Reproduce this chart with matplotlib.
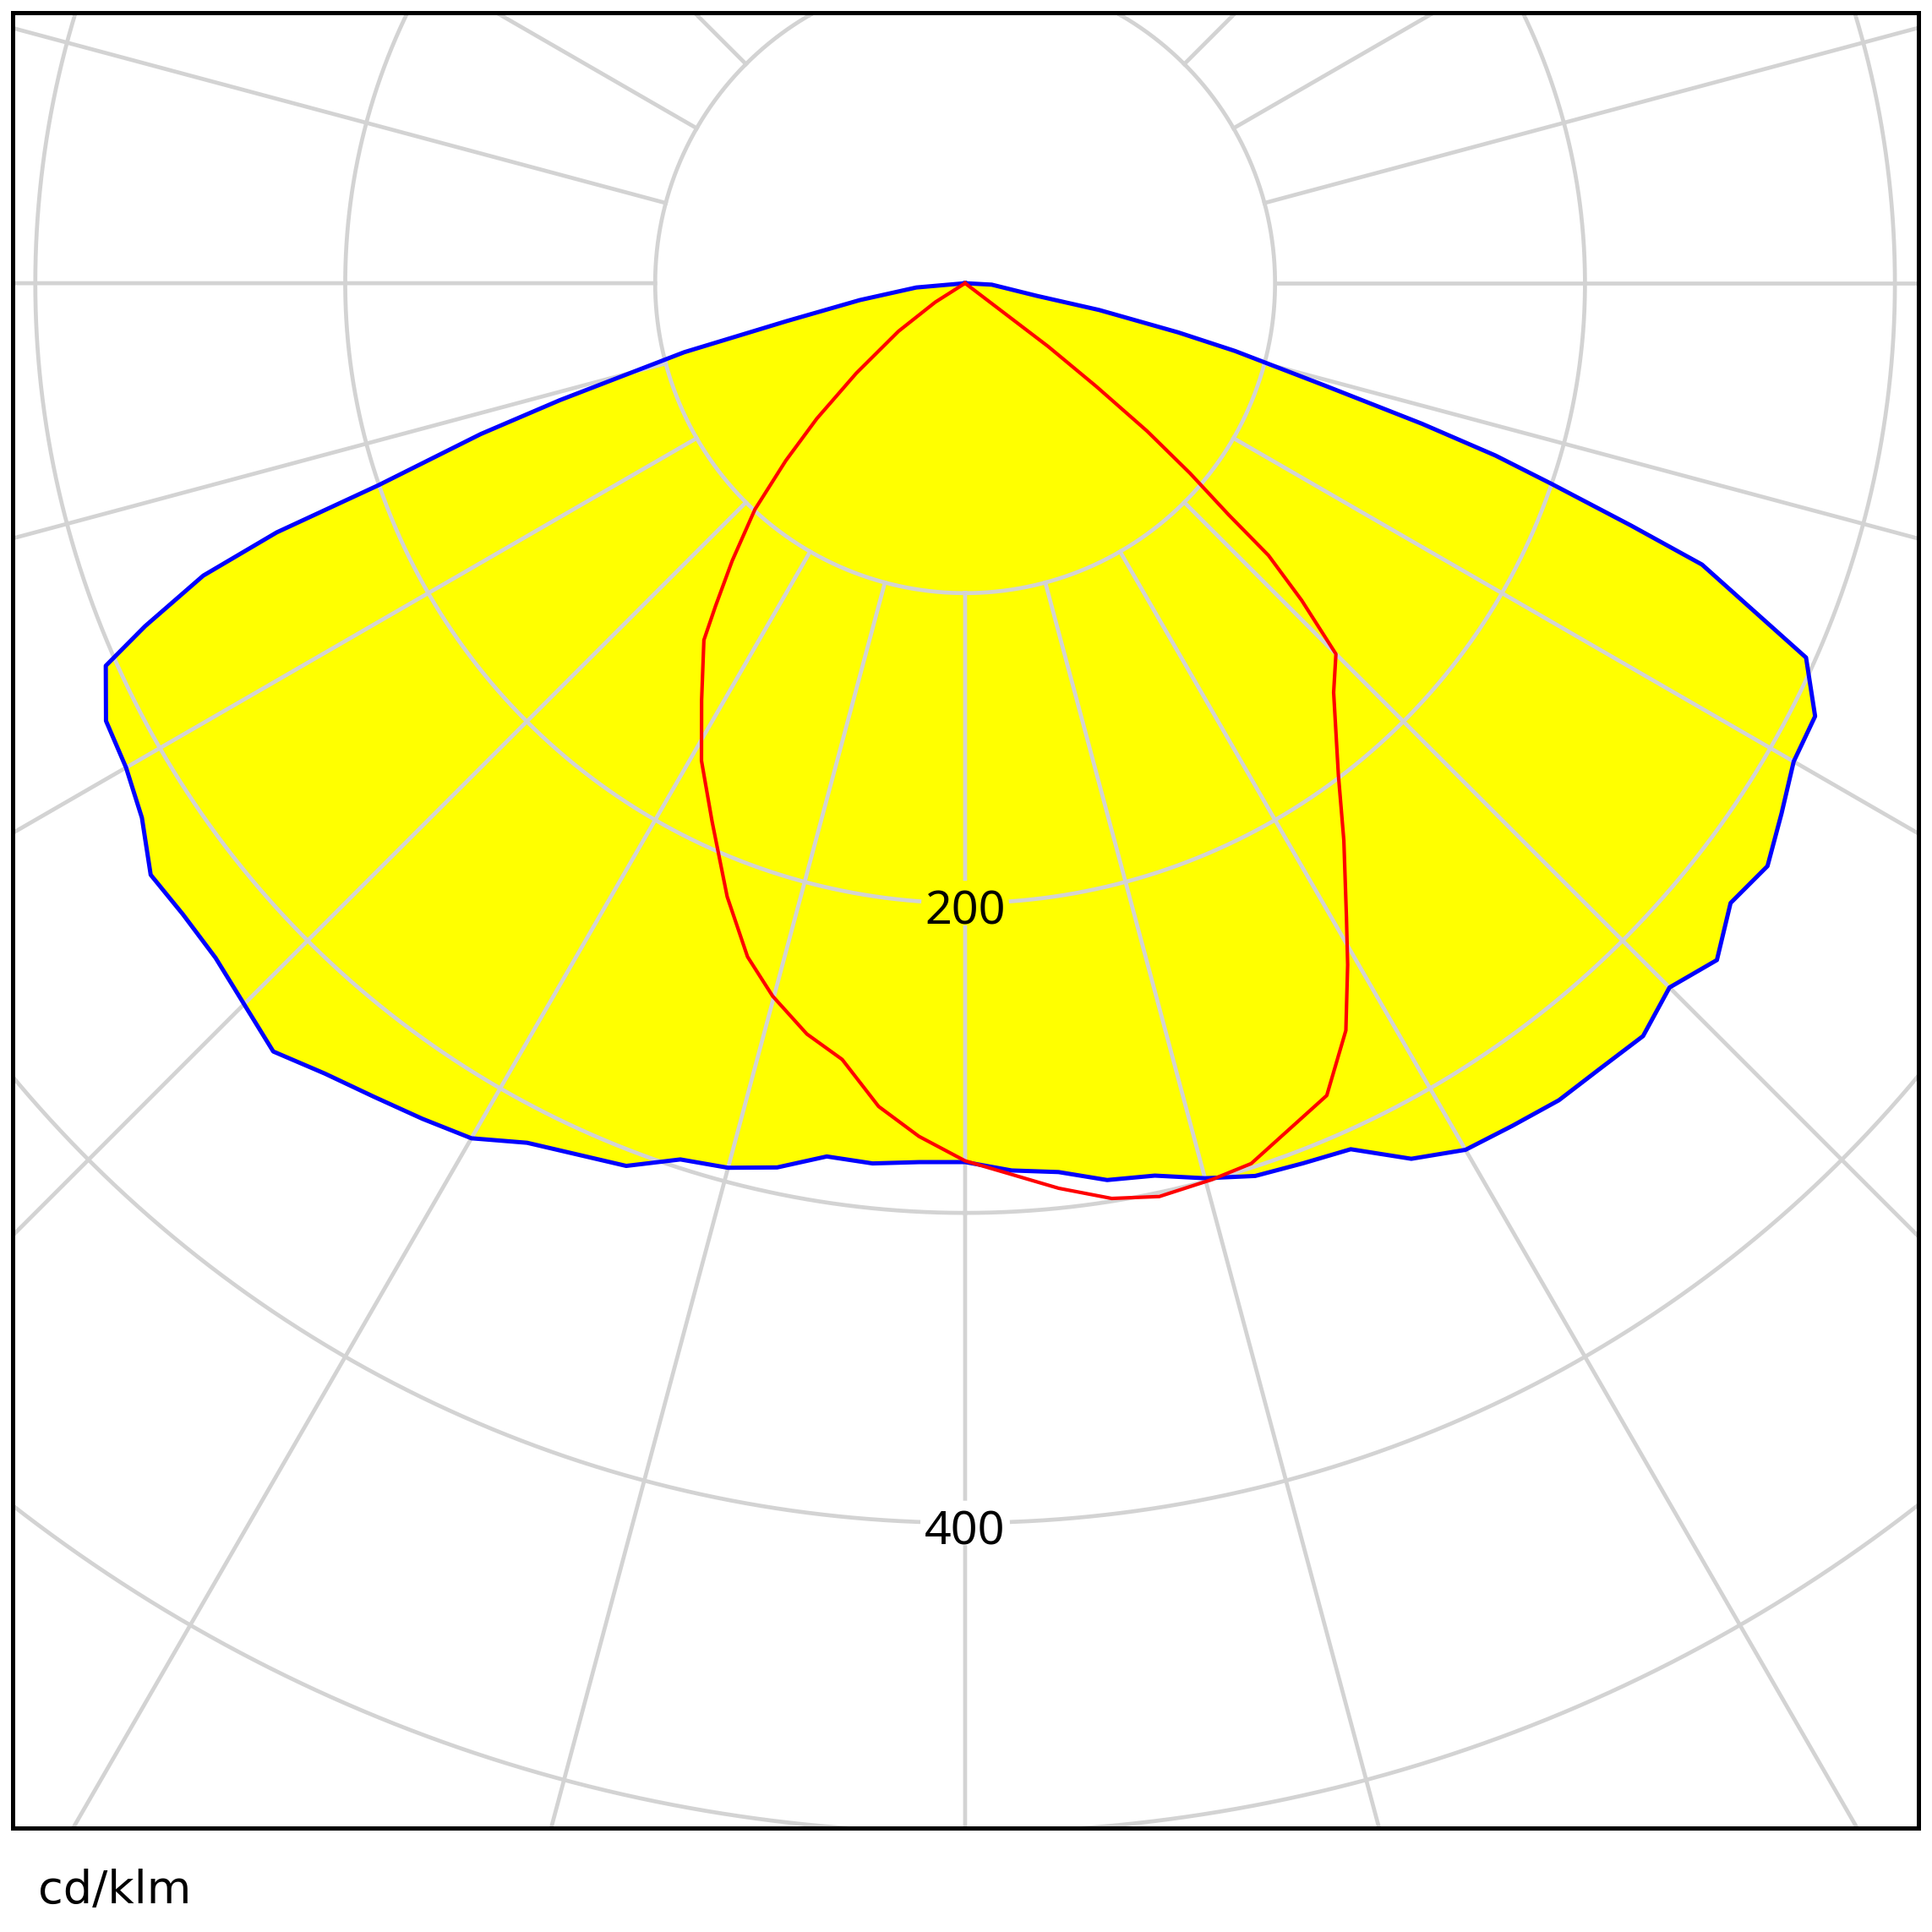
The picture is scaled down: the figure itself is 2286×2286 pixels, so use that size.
import numpy as np
import matplotlib.pyplot as plt

plt.rcParams['font.family'] = ['Noto Sans', 'DejaVu Sans']

# C0-C180 plane (blue, filled) : gamma in degrees from nadir, intensity in cd/klm
blue_gamma = [-90, -85.0, -80.9, -78.0, -76.2, -73.9, -72.7, -71.0, -70.1, -69.0,
              -67.3, -66.0, -63.0, -60.0, -57.0, -54.0, -51.1, -48.0, -45.0, -42.0,
              -39.0, -36.0, -33.0, -30.0, -27.0, -21.0, -18.0, -15.0, -12.0, -9.0,
              -6.0, -3.0, 0, 3, 6, 9, 12, 15, 18, 21,
              24, 27, 30, 33, 36, 39, 42, 45, 48, 51,
              54, 57, 60, 63, 66, 69.1, 70.0, 71.1, 72.0, 72.9,
              74.1, 75.9, 77.0, 78.7, 80.0, 86.9, 90]
blue_cd = [0, 15.8, 34.4, 59.0, 93.3, 136.1, 163.7, 200.1, 236.2, 263.3,
           286.8, 303.5, 311.1, 312.6, 316.7, 324.8, 324.3, 325.4, 329.0, 333.6,
           328.2, 324.5, 321.5, 318.6, 311.3, 305.1, 297.3, 295.5, 291.7, 285.3,
           285.6, 284.0, 283.6, 286.7, 288.4, 293.0, 294.4, 299.0, 302.9, 304.2,
           305.9, 317.1, 322.9, 324.2, 325.9, 325.9, 326.9, 321.4, 326.4, 317.8,
           320.0, 314.1, 308.7, 307.8, 297.0, 254.5, 228.7, 200.2, 179.9, 154.2,
           121.0, 89.8, 70.6, 44.1, 23.5, 8.6, 0]

# C90-C270 plane (red)
red_gamma = [-60, -57.6, -54.2, -50.4, -47.6, -45.3, -42.9, -40.0, -37.7, -36.2,
             -32.3, -28.9, -25.2, -21.2, -17.9, -15.1, -11.9, -9.0, -6.0, -3.1,
             0, 3.0, 5.9, 9.1, 12.0, 15.4, 18.0, 24.0, 27.0, 29.3,
             31.0, 34.2, 37.2, 42.0, 45.0, 46.7, 48.1, 48.7, 49.8, 50.9,
             51.8, 52.7, 55]
red_cd = [0, 11.4, 26.5, 45.6, 64.8, 81.4, 99.6, 116.9, 131.7, 142.7,
          159.1, 176.0, 191.8, 212.3, 228.4, 238.3, 247.6, 253.6, 267.1, 275.7,
          283.2, 288.0, 293.6, 299.1, 301.3, 300.0, 298.7, 286.9, 270.6, 252.2,
          238.9, 217.4, 199.2, 177.7, 169.2, 149.2, 131.5, 113.0, 95.0, 75.6,
          53.8, 33.7, 0]

rings = [100, 200, 300, 400, 500]
ring_labels = [200, 400]
spoke_step = 15
unit = 'cd/klm'

grid_col = '#d3d3d3'


def to_xy(gamma, cd):
    g = np.radians(gamma)
    cd = np.asarray(cd, dtype=float)
    return cd * np.sin(g), -cd * np.cos(g)


W = 2286
fig = plt.figure(figsize=(W / 100, W / 100), dpi=100)
ax = fig.add_axes([15 / W, 123 / W, 2255 / W, 2148 / W])
ax.set_xlim(-307.3, 307.6)
ax.set_ylim(-498.5, 87.3)
ax.set_xticks([])
ax.set_yticks([])
for sp in ax.spines.values():
    sp.set_linewidth(3.6)
    sp.set_color('black')
    sp.set_zorder(10)

# grid, with gaps where the ring labels sit
gap_w, gap_h = 14.5, 7.7
t = np.linspace(0, 2 * np.pi, 4000)
for r in rings:
    x, y = r * np.sin(t), -r * np.cos(t)
    if r in ring_labels:
        x = np.where((np.abs(x) < gap_w) & (y < 0), np.nan, x)
    ax.plot(x, y, color=grid_col, lw=3.4, zorder=2)

rr = np.linspace(100, 800, 3000)
for a in range(0, 360, spoke_step):
    rs = rr.copy()
    if a == 0:
        for lab in ring_labels:
            rs[np.abs(rs - lab) < gap_h] = np.nan
    x, y = to_xy(a, rs)
    ax.plot(x, y, color=grid_col, lw=3.4, zorder=2)

bx, by = to_xy(blue_gamma, blue_cd)
ax.fill(bx, by, color='#ffff00', lw=0, zorder=1)
ax.plot(bx, by, color='#0000ff', lw=3.6, zorder=3, solid_joinstyle='round')

rx, ry = to_xy(red_gamma, red_cd)
ax.plot(rx, ry, color='#ff0000', lw=3.0, zorder=4, solid_joinstyle='round')

for lab in ring_labels:
    ax.text(0, -lab - 3, str(lab), ha='center', va='center', fontsize=40,
            color='black', zorder=5)

fig.text(45 / W, 1 - 2252 / W, unit, ha='left', va='baseline', fontsize=39,
         family=['DejaVu Sans'])

fig.savefig('out.png', dpi=100)
